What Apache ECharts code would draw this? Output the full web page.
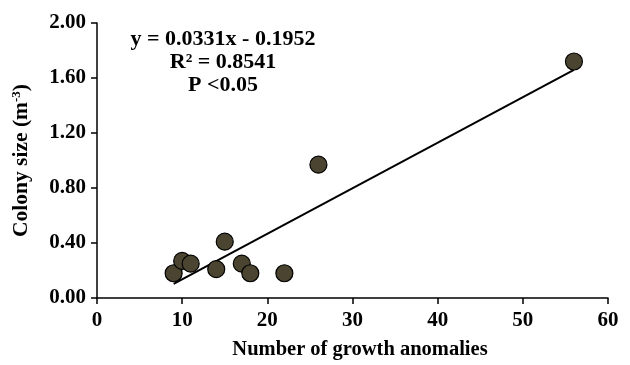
<!DOCTYPE html>
<html>
<head>
<meta charset="utf-8">
<script src="https://cdn.jsdelivr.net/npm/echarts@6/dist/echarts.min.js"></script>
<style>html,body{margin:0;padding:0;background:#fff}#c{width:630px;height:365px}</style>
</head>
<body>
<div id="c"></div>
<script>
const growthAnomalies = [9, 10, 11, 14, 15, 17, 18, 22, 26, 56];
const colonySize = [0.18, 0.27, 0.25, 0.21, 0.41, 0.25, 0.18, 0.18, 0.97, 1.72];
const trendSlope = 0.0331;
const trendIntercept = -0.1952;
const trendX = [9, 56];
const equationLines = ['y = 0.0331x - 0.1952', 'R² = 0.8541', 'P <0.05'];

const font = '"Liberation Serif", "Times New Roman", serif';
const points = growthAnomalies.map((x, i) => [x, colonySize[i]]);
const trend = trendX.map(x => [x, trendSlope * x + trendIntercept]);

const chart = echarts.init(document.getElementById('c'), null, {renderer: 'canvas'});
chart.setOption({
  animation: false,
  backgroundColor: '#fff',
  grid: {left: 97, right: 22, top: 23, bottom: 66},
  title: {
    text: equationLines.join('\n'),
    left: 218, top: 23, textAlign: 'center',
    textStyle: {fontFamily: font, fontWeight: 'bold', fontSize: 22, lineHeight: 23, color: '#000'}
  },
  xAxis: {
    type: 'value', min: 0, max: 60, interval: 10,
    axisLine: {lineStyle: {color: '#000', width: 1.5}},
    axisTick: {show: true, length: 6, lineStyle: {color: '#000', width: 1.5}},
    splitLine: {show: false},
    axisLabel: {fontFamily: font, fontWeight: 'bold', fontSize: 21, color: '#000', margin: 12},
    name: 'Number of growth anomalies', nameLocation: 'middle', nameGap: 41,
    nameTextStyle: {fontFamily: font, fontWeight: 'bold', fontSize: 20.5, color: '#000', padding: [0, 0, 0, 15]}
  },
  yAxis: {
    type: 'value', min: 0, max: 2, interval: 0.4,
    axisLine: {show: true, lineStyle: {color: '#000', width: 1.5}},
    axisTick: {show: true, length: 6, lineStyle: {color: '#000', width: 1.5}},
    splitLine: {show: false},
    axisLabel: {fontFamily: font, fontWeight: 'bold', fontSize: 21, color: '#000', margin: 11,
      formatter: v => v.toFixed(2)},
    name: '{a|Colony size (m}{s|-3}{a|)}', nameLocation: 'middle', nameGap: 65,
    nameTextStyle: {
      rich: {
        a: {fontFamily: font, fontWeight: 'bold', fontSize: 21.5, color: '#000'},
        s: {fontFamily: font, fontWeight: 'bold', fontSize: 13, color: '#000', verticalAlign: 'top', padding: [0, 0, 9, 0]}
      }
    }
  },
  series: [
    {
      type: 'line', data: trend, symbol: 'none', silent: true,
      lineStyle: {color: '#000', width: 2}, z: 1
    },
    {
      type: 'scatter', data: points, symbol: 'circle', symbolSize: 17,
      itemStyle: {color: '#4a4430', borderColor: '#000', borderWidth: 1.2, opacity: 1}, z: 2
    }
  ]
});
</script>
</body>
</html>
